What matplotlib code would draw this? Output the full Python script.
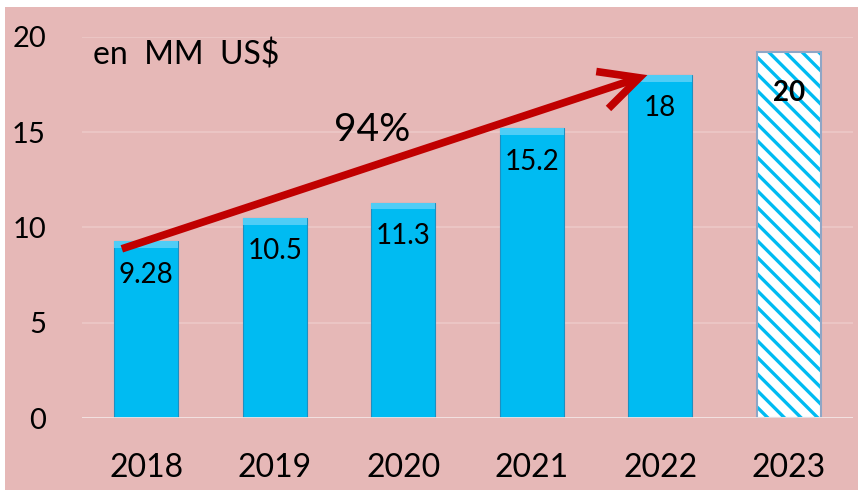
import matplotlib
matplotlib.use("Agg")
import matplotlib.pyplot as plt
from matplotlib.patches import Rectangle

plt.rcParams['font.family'] = ['Lato', 'DejaVu Sans']

years = ["2018", "2019", "2020", "2021", "2022", "2023"]
values = [9.28, 10.5, 11.3, 15.2, 18.0, 19.2]
labels = ["9.28", "10.5", "11.3", "15.2", "18", "20"]
yticks = [0, 5, 10, 15, 20]
growth_label = "94%"
unit_label = "en  MM  US$"

BG = '#E6B8B7'
BAR = '#00BBF2'
BAR_TOP = '#4FCDF6'
BAR_EDGE = '#1E8FC0'
ARROW = '#C00000'

fig = plt.figure(figsize=(8.58, 4.90), dpi=100, facecolor='white')
fig.patches.append(Rectangle((5 / 858, 0), 1 - 5 / 858, 1 - 7 / 490,
                             transform=fig.transFigure, facecolor=BG,
                             edgecolor='none', zorder=-10))
ax = fig.add_axes([82 / 858, 1 - 418 / 490, (853 - 82) / 858, (418 - 37) / 490])
ax.set_facecolor(BG)
ax.patch.set_alpha(0)

x = list(range(len(years)))
w = 0.5
n_solid = len(years) - 1

# solid bars
ax.bar(x[:n_solid], values[:n_solid], width=w, color=BAR,
       edgecolor=BAR_EDGE, linewidth=0.8, zorder=3)
# top bevel highlight
bev = 0.35
ax.bar(x[:n_solid], [bev] * n_solid, bottom=[v - bev for v in values[:n_solid]],
       width=w, color=BAR_TOP, edgecolor='none', linewidth=0, zorder=4)

# hatched forecast bar
plt.rcParams['hatch.linewidth'] = 2.4
ax.bar(x[-1], values[-1], width=w, color='white', edgecolor=BAR,
       hatch='\\\\', linewidth=0, zorder=3)
ax.bar(x[-1], values[-1], width=w, color='none', edgecolor='#8FA6C6',
       linewidth=1.5, zorder=4)

# value labels
for i, (v, lab) in enumerate(zip(values, labels)):
    bold = (i == len(values) - 1)
    ax.text(i, v - (2.15 if bold else 1.75), lab, ha='center', va='center',
            fontsize=20, color='black', fontweight='bold' if bold else 'normal',
            zorder=6)

# growth arrow
ax.annotate('', xy=(4 - 0.1, values[4]), xytext=(0 - 0.19, values[0] - 0.4),
            arrowprops=dict(arrowstyle='->,head_length=1.4,head_width=0.7',
                            color=ARROW, lw=5.5, mutation_scale=20,
                            shrinkA=0, shrinkB=0, joinstyle='miter',
                            capstyle='butt'),
            zorder=7)
ax.text(1.76, 15.1, growth_label, ha='center', va='center', fontsize=28, zorder=7)
ax.text(0.31, 19.05, unit_label, ha='center', va='center', fontsize=23, zorder=7)

ax.set_xlim(-0.5, len(years) - 0.5)
ax.set_ylim(0, 20)
ax.set_yticks(yticks)
ax.set_yticklabels([str(t) for t in yticks])
ax.set_xticks(x)
ax.set_xticklabels(years)
ax.tick_params(axis='both', length=0)
ax.tick_params(axis='y', pad=26, labelsize=21)
ax.tick_params(axis='x', pad=25, labelsize=23)
for s in ax.spines.values():
    s.set_visible(False)
for t in yticks[1:]:
    ax.axhline(t, color='#EDC8C7', lw=1.2, zorder=1)
ax.axhline(0, color='#F4E6E6', lw=2, zorder=5)

fig.savefig('out.png', dpi=100, facecolor='white')
